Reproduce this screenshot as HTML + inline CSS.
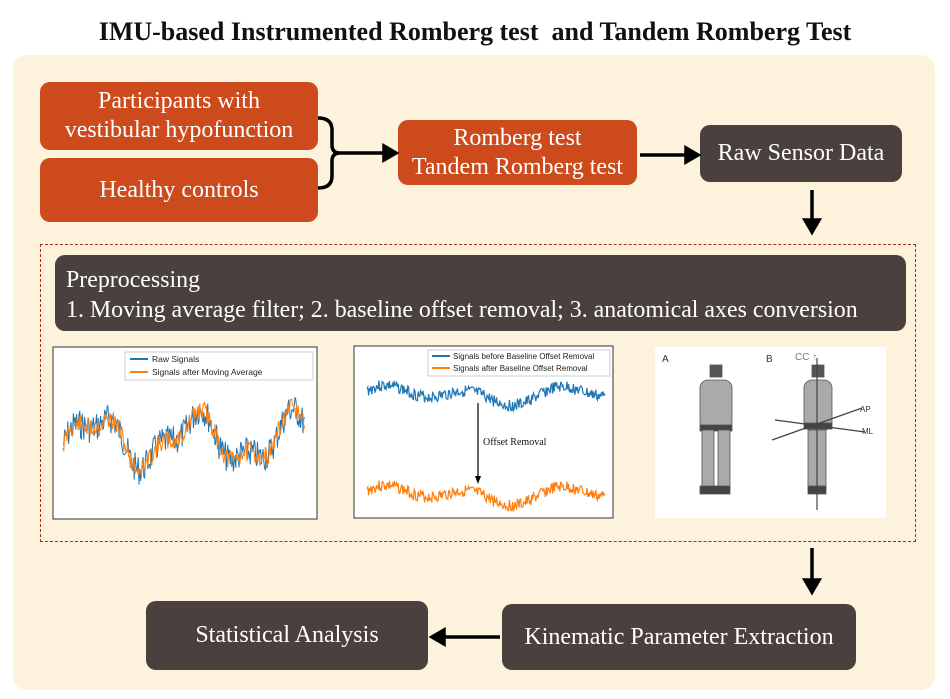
<!DOCTYPE html>
<html><head><meta charset="utf-8"><style>
body{margin:0;width:950px;height:699px;background:#fff;position:relative;overflow:hidden;font-family:"Liberation Serif",serif}
.a{position:absolute}
.t{left:0;width:950px;top:17px;text-align:center;font-weight:bold;font-size:26px;color:#111}
.bg{left:13px;top:55px;width:922px;height:635px;background:#fdf2dc;border-radius:14px}
.o{background:#cc4a1c;color:#fff;border-radius:10px;display:flex;align-items:center;justify-content:center;text-align:center;font-size:24px;line-height:29px}
.d{background:#4a403d;color:#fff;border-radius:10px;display:flex;align-items:center;justify-content:center;text-align:center;font-size:24px}
</style></head><body>
<div class="a t">IMU-based Instrumented Romberg test&nbsp; and Tandem Romberg Test</div>
<div class="a bg"></div>
<div class="a o" style="left:40px;top:82px;width:278px;height:68px">Participants with<br>vestibular hypofunction</div>
<div class="a o" style="left:40px;top:158px;width:278px;height:64px">Healthy controls</div>
<div class="a o" style="left:398px;top:120px;width:239px;height:65px">Romberg test<br>Tandem Romberg test</div>
<div class="a d" style="left:700px;top:125px;width:202px;height:57px">Raw Sensor Data</div>
<div class="a" style="left:40px;top:244px;width:874px;height:296px;border:1.5px dashed #b02a18"></div>
<div class="a d" style="left:55px;top:255px;width:851px;height:76px;display:block;font-size:23.9px;line-height:30px;padding:10px 0 0 11px;box-sizing:border-box;text-align:left">Preprocessing<br>1. Moving average filter; 2. baseline offset removal; 3. anatomical axes conversion</div>
<div class="a d" style="left:502px;top:604px;width:354px;height:66px">Kinematic Parameter Extraction</div>
<div class="a d" style="left:146px;top:601px;width:282px;height:69px">Statistical Analysis</div>
<svg class="a" style="left:0;top:0" width="950" height="699">
<path d="M318,118 Q332,118 332,130 L332,145 Q332,153 340,153 Q332,153 332,161 L332,176 Q332,188 318,188" fill="none" stroke="#000" stroke-width="3.5"/>
<g stroke="#000" stroke-width="3.5" fill="#000">
<line x1="340" y1="153" x2="388" y2="153"/><path d="M384,146 L396,153 L384,160z"/>
<line x1="640" y1="155" x2="690" y2="155"/><path d="M686,148 L698,155 L686,162z"/>
<line x1="812" y1="190" x2="812" y2="224"/><path d="M805,220 L812,232 L819,220z"/>
<line x1="812" y1="548" x2="812" y2="584"/><path d="M805,580 L812,592 L819,580z"/>
<line x1="500" y1="637" x2="440" y2="637"/><path d="M444,630 L432,637 L444,644z"/>
</g>
<rect x="53" y="347" width="264" height="172" fill="#fff" stroke="#333"/>
<rect x="354" y="346" width="259" height="172" fill="#fff" stroke="#333"/>
<rect x="655" y="347" width="231" height="171" fill="#fff"/>
<g id="c1"></g><g id="c2"></g>
<rect x="125" y="352" width="188" height="28" fill="#fff" stroke="#ccc"/>
<line x1="130" y1="359" x2="148" y2="359" stroke="#1f77b4" stroke-width="2"/>
<line x1="130" y1="372" x2="148" y2="372" stroke="#ff7f0e" stroke-width="2"/>
<text x="152" y="362" font-family="Liberation Sans" font-size="8.5" fill="#222">Raw Signals</text>
<text x="152" y="375" font-family="Liberation Sans" font-size="8.5" fill="#222">Signals after Moving Average</text>
<rect x="428" y="350" width="182" height="26" fill="#fff" stroke="#ccc"/>
<line x1="432" y1="356" x2="450" y2="356" stroke="#1f77b4" stroke-width="2"/>
<line x1="432" y1="368" x2="450" y2="368" stroke="#ff7f0e" stroke-width="2"/>
<text x="453" y="359" font-family="Liberation Sans" font-size="8" fill="#222">Signals before Baseline Offset Removal</text>
<text x="453" y="371" font-family="Liberation Sans" font-size="8" fill="#222">Signals after Baseline Offset Removal</text>
<line x1="478" y1="403" x2="478" y2="480" stroke="#000" stroke-width="1.2"/><path d="M475,476 L478,484 L481,476z"/>
<text x="483" y="445" font-size="10" fill="#111">Offset Removal</text>
<g fill="#aaa" stroke="#555" stroke-width="0.8">
<rect x="710" y="365" width="12" height="12" fill="#555"/><rect x="700" y="380" width="32" height="50" rx="8"/><rect x="700" y="425" width="32" height="6" fill="#444"/><rect x="702" y="430" width="12" height="60"/><rect x="718" y="430" width="12" height="60"/><rect x="700" y="486" width="30" height="8" fill="#444"/>
<rect x="812" y="365" width="12" height="12" fill="#555"/><rect x="804" y="380" width="28" height="50" rx="8"/><rect x="804" y="423" width="28" height="6" fill="#444"/><rect x="808" y="430" width="18" height="60"/><rect x="808" y="486" width="18" height="8" fill="#444"/>
</g>
<g stroke="#444" stroke-width="1.2"><line x1="817" y1="510" x2="817" y2="358"/><line x1="775" y1="420" x2="865" y2="432"/><line x1="772" y1="440" x2="862" y2="408"/></g>
<g font-family="Liberation Sans" fill="#333"><text x="662" y="362" font-size="10">A</text><text x="766" y="362" font-size="10">B</text><text x="795" y="360" font-size="10" fill="#777">CC ↑</text><text x="860" y="412" font-size="8">AP</text><text x="862" y="434" font-size="8">ML</text></g>
</svg>
<script>
function r(s){return function(){s=(s*9301+49297)%233280;return s/233280;}}
function p(id,x0,x1,base,amp,col,seed,w,shape){var g=document.getElementById(id),R=r(seed),d="";for(var x=x0;x<=x1;x+=0.8){var y=base+shape(x)+ (R()-0.5)*amp;d+=(d?"L":"M")+x.toFixed(1)+","+y.toFixed(1);}var e=document.createElementNS("http://www.w3.org/2000/svg","path");e.setAttribute("d",d);e.setAttribute("fill","none");e.setAttribute("stroke",col);e.setAttribute("stroke-width",w);g.appendChild(e);}
var s1=function(x){return -22*Math.sin((x-70)/16)-10*Math.sin((x-60)/7)};
p("c1",63,305,440,30,"#1f77b4",7,1,s1);p("c1",63,305,440,20,"#ff7f0e",11,1,s1);
var s2=function(x){return -6*Math.sin((x-360)/14)-5*Math.sin((x-360)/30)};
p("c2",367,606,395,12,"#1f77b4",3,1.2,s2);p("c2",367,606,495,12,"#ff7f0e",3,1.2,s2);
</script>
</body></html>
